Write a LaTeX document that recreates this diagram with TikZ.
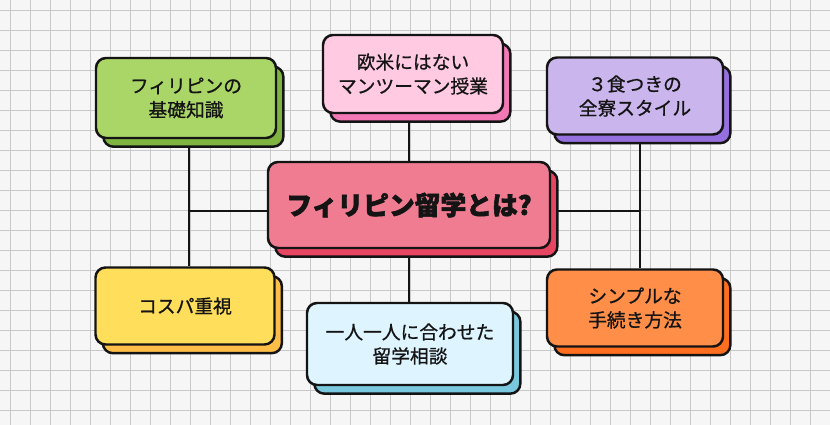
\documentclass[tikz,border=0pt]{standalone}
\usepackage{fontspec}
\setmainfont{Noto Sans CJK JP}[UprightFeatures={FakeBold=0.8}, BoldFeatures={FakeBold=2.2}]
\usepackage{xcolor}
\definecolor{gridbg}{RGB}{246,246,246}
\definecolor{gridline}{RGB}{200,200,200}
\definecolor{inkblack}{RGB}{20,20,20}
\definecolor{fgreen}{RGB}{170,214,104}
\definecolor{sgreen}{RGB}{128,180,64}
\definecolor{fpink}{RGB}{255,202,226}
\definecolor{spink}{RGB}{242,120,182}
\definecolor{fpurple}{RGB}{202,182,236}
\definecolor{spurple}{RGB}{150,112,222}
\definecolor{fhub}{RGB}{240,124,146}
\definecolor{shub}{RGB}{230,70,98}
\definecolor{fyellow}{RGB}{255,222,92}
\definecolor{syellow}{RGB}{255,190,72}
\definecolor{fblue}{RGB}{222,245,255}
\definecolor{sblue}{RGB}{122,200,222}
\definecolor{forange}{RGB}{255,142,72}
\definecolor{sorange}{RGB}{255,110,30}
\usetikzlibrary{positioning, shadows, backgrounds}

\tikzset{
  topic/.style 2 args={draw=inkblack, line width=2.1pt, rounded corners=0.3cm,
    fill=#1, text=inkblack, align=center, inner sep=0pt,
    font=\fontsize{16}{20.5}\selectfont,
    general shadow={fill=#2, draw=inkblack, line width=2.1pt,
      shadow xshift=0.22cm, shadow yshift=-0.26cm}},
  link/.style={draw=inkblack, line width=2.1pt}
}

\begin{document}
\begin{tikzpicture}[x=0.03cm, y=-0.03cm]
  \useasboundingbox (0,0) rectangle (830,425);

  % --- Central topic ---
  \node[topic={fhub}{shub}, minimum width=8.46cm, minimum height=2.58cm,
    font=\fontsize{22}{26}\bfseries] (hub) at (409,205) {フィリピン留学とは?};

  % --- Left column ---
  \node[topic={fgreen}{sgreen}, minimum width=5.4cm, minimum height=2.4cm] (basics) at (186,98) {フィリピンの\\基礎知識};
  \node[topic={fyellow}{syellow}, minimum width=5.37cm, minimum height=2.31cm] (cost) at (185,306) {コスパ重視};

  % --- Middle column ---
  \node[topic={fpink}{spink}, minimum width=5.4cm, minimum height=2.34cm] (oneonone) at (413,74) {欧米にはない\\マンツーマン授業};
  \node[topic={fblue}{sblue}, minimum width=6.18cm, minimum height=2.46cm] (consult) at (410,344) {一人一人に合わせた\\留学相談};

  % --- Right column ---
  \node[topic={fpurple}{spurple}, minimum width=5.28cm, minimum height=2.31cm] (dorm) at (635,96) {３食つきの\\全寮スタイル};
  \node[topic={forange}{sorange}, minimum width=5.28cm, minimum height=2.31cm] (simple) at (635,308) {シンプルな\\手続き方法};

  % --- Grid paper and connectors ---
  \begin{scope}[on background layer]
    \fill[gridbg] (0,0) rectangle (830,425);
    \foreach \gx in {10,30,...,830}
      \draw[gridline, line width=0.6pt] (\gx,0) -- (\gx,425);
    \foreach \gy in {10,30,...,425}
      \draw[gridline, line width=0.6pt] (0,\gy) -- (830,\gy);

    \coordinate (ljoin) at (189,211);
    \coordinate (rjoin) at (640,211);
    \draw[link] (ljoin |- basics.south) -- (ljoin |- cost.north);
    \draw[link] (ljoin) -- (ljoin -| hub.west);
    \draw[link] (rjoin |- dorm.south) -- (rjoin |- simple.north);
    \draw[link] (hub.east |- rjoin) -- (rjoin);
    \draw[link] (hub.north) -- (hub.north |- oneonone.south);
    \draw[link] (hub.south) -- (hub.south |- consult.north);
  \end{scope}
\end{tikzpicture}
\end{document}
